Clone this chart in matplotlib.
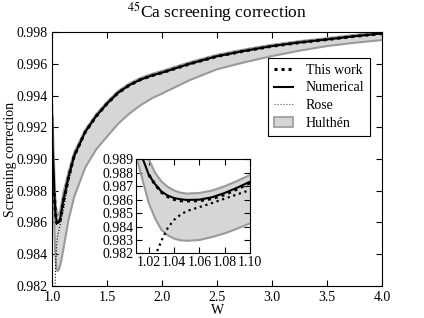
import numpy as np
import matplotlib
matplotlib.use("Agg")
import matplotlib.pyplot as plt
from matplotlib.patches import Patch
from matplotlib.lines import Line2D

plt.rcParams['font.family'] = ['Liberation Serif', 'DejaVu Serif']
plt.rcParams['mathtext.fontset'] = 'stix'
plt.rcParams['xtick.direction'] = 'in'
plt.rcParams['ytick.direction'] = 'in'
plt.rcParams['xtick.top'] = True
plt.rcParams['ytick.right'] = True
plt.rcParams['xtick.major.size'] = 4
plt.rcParams['ytick.major.size'] = 4

# ---- data ----
W = [1.001, 1.005, 1.01, 1.015, 1.02, 1.025, 1.03, 1.035, 1.04, 1.045, 1.05,
     1.06, 1.07, 1.08, 1.09, 1.10, 1.15, 1.2, 1.3, 1.4, 1.5, 1.6, 1.7, 1.8,
     1.9, 2.0, 2.25, 2.5, 2.75, 3.0, 3.25, 3.5, 3.75, 4.0]
numerical = [0.9927, 0.9906, 0.9897, 0.9891, 0.98785, 0.98715, 0.98660, 0.98630,
             0.98612, 0.98603, 0.98598, 0.98600, 0.98618, 0.98650, 0.98690,
             0.98734, 0.98890, 0.99020, 0.99170, 0.99270, 0.99350, 0.99418,
             0.99465, 0.99500, 0.99525, 0.99545, 0.99600, 0.99648, 0.99682,
             0.99712, 0.99735, 0.99754, 0.99774, 0.99792]
hulthen_upper = [0.9934, 0.9922, 0.9912, 0.9902, 0.9890, 0.9880, 0.98735, 0.98695,
                 0.98668, 0.98652, 0.98645, 0.98650, 0.98668, 0.98700, 0.98740,
                 0.98784, 0.98920, 0.99040, 0.99183, 0.99282, 0.99361, 0.99428,
                 0.99475, 0.99510, 0.99535, 0.99555, 0.99610, 0.99657, 0.99691,
                 0.99720, 0.99743, 0.99762, 0.99782, 0.99800]
hulthen_lower = [0.9920, 0.9905, 0.9893, 0.98750, 0.98575, 0.98460, 0.98375, 0.98335,
                 0.98310, 0.98298, 0.98294, 0.98300, 0.98322, 0.98350, 0.98385,
                 0.98424, 0.98620, 0.98760, 0.98945, 0.99060, 0.99142, 0.99222,
                 0.99285, 0.99337, 0.99380, 0.99413, 0.99497, 0.99566, 0.99610,
                 0.99649, 0.99683, 0.99712, 0.99733, 0.99750]

W_work = [1.02, 1.025, 1.03, 1.035, 1.04, 1.045, 1.05, 1.06, 1.07, 1.08, 1.09,
          1.10, 1.15, 1.2, 1.3, 1.4, 1.5, 1.6, 1.7, 1.8, 1.9, 2.0, 2.25, 2.5,
          2.75, 3.0, 3.25, 3.5, 3.75, 4.0]
this_work = [0.98785, 0.98712, 0.98655, 0.98622, 0.98602, 0.98592, 0.98590,
             0.98592, 0.98608, 0.98638, 0.98680, 0.98725, 0.98885, 0.99018,
             0.99169, 0.99269, 0.99349, 0.99417, 0.99464, 0.99499, 0.99524,
             0.99544, 0.99599, 0.99647, 0.99681, 0.99711, 0.99734, 0.99753,
             0.99773, 0.99791]

W_rose = [1.01, 1.015, 1.02, 1.025, 1.03, 1.035, 1.04, 1.045, 1.05, 1.06, 1.07,
          1.08, 1.09, 1.10, 1.15, 1.2, 1.3, 1.4, 1.5, 1.6, 1.7, 1.8, 1.9, 2.0,
          2.25, 2.5, 2.75, 3.0, 3.25, 3.5, 3.75, 4.0]
rose = [0.9760, 0.9788, 0.9806, 0.98180, 0.98295, 0.98390, 0.98450, 0.98488,
        0.98515, 0.98545, 0.98575, 0.98608, 0.98640, 0.98672, 0.98860, 0.99005,
        0.99165, 0.99267, 0.99347, 0.99415, 0.99462, 0.99497, 0.99522, 0.99542,
        0.99597, 0.99645, 0.99679, 0.99709, 0.99732, 0.99751, 0.99771, 0.99789]

main_xticks = [1.0, 1.5, 2.0, 2.5, 3.0, 3.5, 4.0]
main_yticks = [0.982, 0.984, 0.986, 0.988, 0.990, 0.992, 0.994, 0.996, 0.998]
inset_xticks = [1.02, 1.04, 1.06, 1.08, 1.10]
inset_yticks = [0.982, 0.983, 0.984, 0.985, 0.986, 0.987, 0.988, 0.989]

band_fill = '#d6d6d6'
band_edge = '#9a9a9a'
work_ls = (0, (1.0, 1.3))

fig = plt.figure(figsize=(4.24, 3.18), dpi=100)
ax = fig.add_axes([0.123, 0.101, 0.778, 0.798])

def draw(a, lw_work, lw_rose):
    a.fill_between(W, hulthen_lower, hulthen_upper, facecolor=band_fill,
                   edgecolor='none', zorder=1)
    a.plot(W, hulthen_upper, color=band_edge, lw=1.5, zorder=2)
    a.plot(W, hulthen_lower, color=band_edge, lw=1.5, zorder=2)
    a.plot(W, numerical, color='black', lw=1.5, zorder=3)
    a.plot(W_rose, rose, color='black', lw=lw_rose, ls=':', zorder=4)
    a.plot(W_work, this_work, color='black', lw=lw_work, ls=work_ls, zorder=5)

draw(ax, 2.2, 0.8)
ax.set_xlim(1.0, 4.0)
ax.set_ylim(0.982, 0.998)
ax.set_xticks(main_xticks)
ax.set_yticks(main_yticks)
ax.set_xticklabels([f"{v:.1f}" for v in main_xticks], fontsize=10)
ax.set_yticklabels([f"{v:.3f}" for v in main_yticks], fontsize=10)
ax.set_xlabel("W", fontsize=10, labelpad=0)
ax.set_ylabel("Screening correction", fontsize=10)
ax.yaxis.set_label_coords(-0.107, 0.5)
ax.set_title(r"$^{45}$Ca screening correction", fontsize=12.5, pad=10)

handles = [Line2D([], [], color='black', lw=2.2, ls=work_ls),
           Line2D([], [], color='black', lw=1.5),
           Line2D([], [], color='#555555', lw=0.8, ls=':'),
           Patch(facecolor=band_fill, edgecolor=band_edge, lw=1.2)]
labels = ["This work", "Numerical", "Rose", "Hulthén"]
leg = ax.legend(handles, labels, loc='upper right', bbox_to_anchor=(0.964, 0.898),
                fontsize=10, frameon=True, fancybox=False, framealpha=1,
                edgecolor='black', handlelength=1.4, labelspacing=0.35,
                borderpad=0.4, handletextpad=0.9, borderaxespad=0.0)
leg.get_frame().set_linewidth(0.8)

ins = fig.add_axes([0.321, 0.203, 0.269, 0.296])
draw(ins, 2.2, 1.6)
ins.set_xlim(1.01, 1.10)
ins.set_ylim(0.982, 0.989)
ins.set_xticks(inset_xticks)
ins.set_yticks(inset_yticks)
ins.set_xticklabels([f"{v:.2f}" for v in inset_xticks], fontsize=10)
ins.set_yticklabels([f"{v:.3f}" for v in inset_yticks], fontsize=10)
ins.tick_params(pad=2)

fig.savefig("out.png", dpi=100)
